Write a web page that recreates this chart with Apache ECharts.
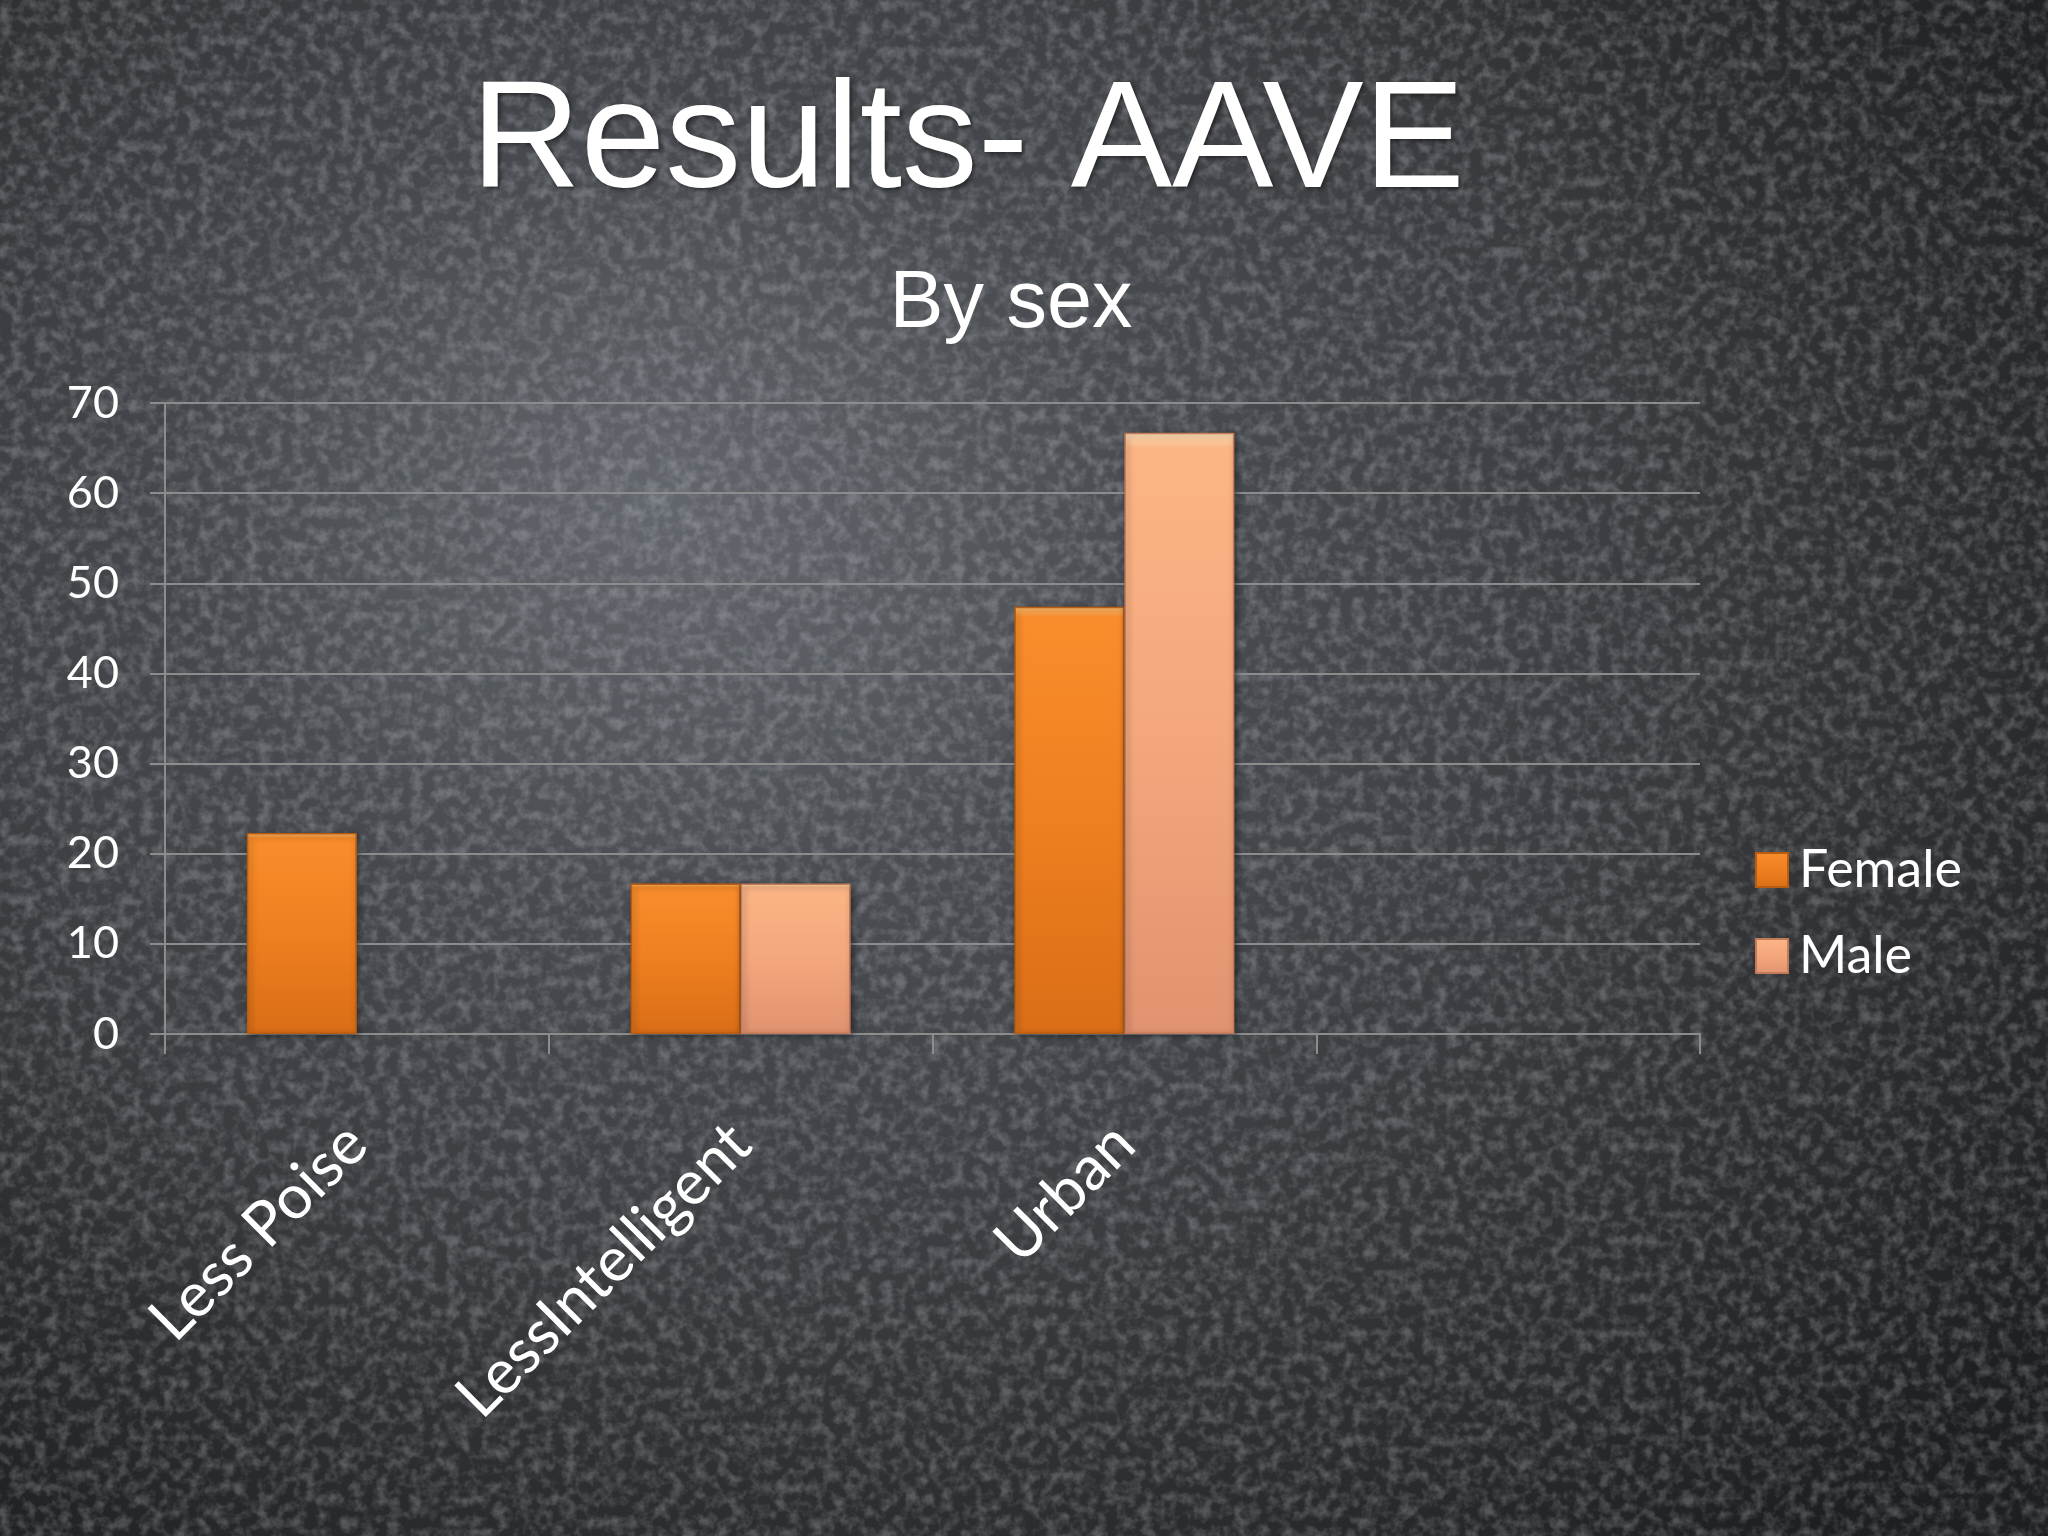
<!DOCTYPE html>
<html>
<head>
<meta charset="utf-8">
<script src="https://cdn.jsdelivr.net/npm/echarts@6/dist/echarts.min.js"></script>
<style>
html,body{margin:0;padding:0;width:2048px;height:1536px;overflow:hidden;}
body{
  background:
    radial-gradient(ellipse 1100px 900px at 650px 500px, rgba(125,130,138,0.55) 0%, rgba(85,89,95,0.35) 45%, rgba(0,0,0,0) 100%),
    radial-gradient(ellipse 1500px 1150px at 850px 650px, #4a4d51 0%, #383a3d 55%, #1e1f20 100%);
}
#tex{position:absolute;left:0;top:0;width:2048px;height:1536px;opacity:0.28;}
#chart{position:absolute;left:0;top:0;width:2048px;height:1536px;}
</style>
</head>
<body>
<svg id="tex" xmlns="http://www.w3.org/2000/svg" width="2048" height="1536">
  <filter id="leather" x="0" y="0" width="100%" height="100%">
    <feTurbulence type="fractalNoise" baseFrequency="0.085" numOctaves="3" seed="11"/>
    <feColorMatrix type="matrix" values="0 0 0 0 0.62  0 0 0 0 0.64  0 0 0 0 0.68  0 0 0 -2.4 1.45"/>
  </filter>
  <rect width="2048" height="1536" filter="url(#leather)" fill="#000"/>
</svg>
<div id="chart"></div>
<script>
const titleText = 'Results- AAVE';
const subtitleText = 'By sex';
const categories = ['Less Poise', 'LessIntelligent', 'Urban', ''];
const seriesNames = ['Female', 'Male'];
const femaleValues = [22.3, 16.7, 47.4, null];
const maleValues = [null, 16.7, 66.7, null];
const yTicks = [0, 10, 20, 30, 40, 50, 60, 70];

const chart = echarts.init(document.getElementById('chart'), null, {renderer: 'canvas'});

const femaleColor = new echarts.graphic.LinearGradient(0, 0, 0, 1, [
  {offset: 0, color: '#ffc070'},
  {offset: 0.025, color: '#f98d2c'},
  {offset: 0.5, color: '#ef7f20'},
  {offset: 1, color: '#d96e17'}
]);
const maleColor = new echarts.graphic.LinearGradient(0, 0, 0, 1, [
  {offset: 0, color: '#ffe0b8'},
  {offset: 0.025, color: '#fbb585'},
  {offset: 0.5, color: '#f4a77c'},
  {offset: 1, color: '#e19270'}
]);

chart.setOption({
  backgroundColor: 'transparent',
  animation: false,
  title: [
    {
      text: titleText, left: 963, top: 64, textAlign: 'center',
      textStyle: {color: '#ffffff', fontFamily: 'Liberation Sans', fontSize: 152, fontWeight: 'normal',
        textShadowColor: 'rgba(0,0,0,0.5)', textShadowBlur: 4, textShadowOffsetX: 2, textShadowOffsetY: 2}
    },
    {
      text: subtitleText, left: 1006, top: 259, textAlign: 'center',
      textStyle: {color: '#ffffff', fontFamily: 'Liberation Sans', fontSize: 81, fontWeight: 'normal'}
    }
  ],
  legend: {
    orient: 'vertical', left: 1750, top: 839,
    itemWidth: 32, itemHeight: 34, itemGap: 34,
    icon: 'rect',
    textStyle: {color: '#ffffff', fontFamily: 'Lato', fontSize: 52, padding: [0, 0, 0, 6]},
    data: seriesNames
  },
  grid: {left: 165, right: 348, top: 403, bottom: 502, containLabel: false},
  xAxis: {
    type: 'category', data: categories,
    axisLine: {show: true, lineStyle: {color: '#8c8c8c', width: 2}},
    axisTick: {show: true, length: 20, alignWithLabel: false, lineStyle: {color: '#8c8c8c', width: 2}},
    axisLabel: {rotate: 45, margin: 100, color: '#ffffff', fontFamily: 'Lato', fontSize: 62, interval: 0}
  },
  yAxis: {
    type: 'value', min: yTicks[0], max: yTicks[yTicks.length - 1], interval: 10,
    axisLine: {show: true, lineStyle: {color: '#8c8c8c', width: 2}},
    axisTick: {show: true, length: 15, lineStyle: {color: '#8c8c8c', width: 2}},
    axisLabel: {color: '#ffffff', fontFamily: 'Lato', fontSize: 45, margin: 46},
    splitLine: {show: true, lineStyle: {color: '#8c8c8c', width: 2}}
  },
  series: [
    {
      name: seriesNames[0], type: 'bar', data: femaleValues, barWidth: 110, barGap: '0%',
      itemStyle: {color: femaleColor, borderColor: '#b85c12', borderWidth: 1.5,
        shadowColor: 'rgba(0,0,0,0.45)', shadowBlur: 6, shadowOffsetX: 2, shadowOffsetY: 2}
    },
    {
      name: seriesNames[1], type: 'bar', data: maleValues, barWidth: 110, barGap: '0%',
      itemStyle: {color: maleColor, borderColor: '#c27a58', borderWidth: 1.5,
        shadowColor: 'rgba(0,0,0,0.45)', shadowBlur: 6, shadowOffsetX: 2, shadowOffsetY: 2}
    }
  ]
});
</script>
</body>
</html>
